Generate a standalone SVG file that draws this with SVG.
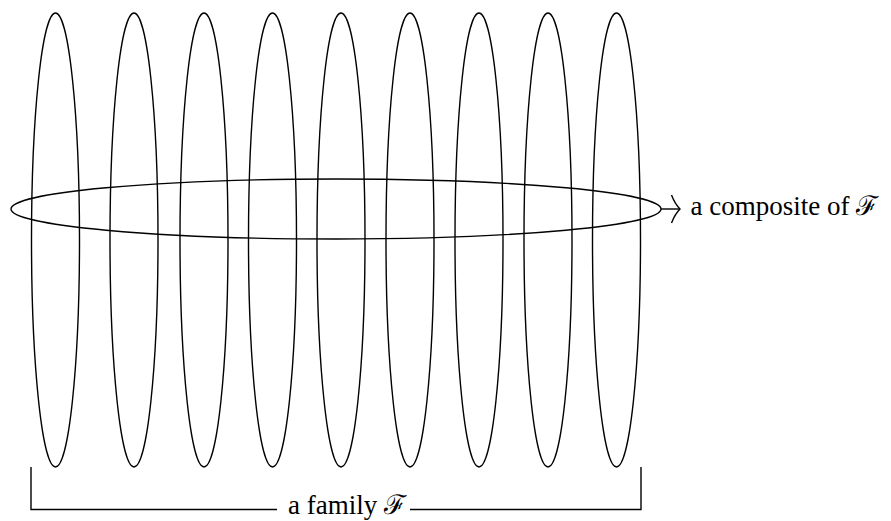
<svg xmlns="http://www.w3.org/2000/svg" width="891" height="521" viewBox="0 0 891 521">
<style>
.s{fill:none;stroke:#000;stroke-width:1.4}
.t{font-size:27px;fill:#000}
</style>
<rect width="891" height="521" fill="#fff"/>
<g id="family">
<g id="m1"><ellipse class="s" cx="55.5" cy="240" rx="24" ry="227"/></g>
<g id="m2"><ellipse class="s" cx="134" cy="240" rx="24" ry="227"/></g>
<g id="m3"><ellipse class="s" cx="204" cy="240" rx="24" ry="227"/></g>
<g id="m4"><ellipse class="s" cx="272.5" cy="240" rx="24" ry="227"/></g>
<g id="m5"><ellipse class="s" cx="341" cy="240" rx="24" ry="227"/></g>
<g id="m6"><ellipse class="s" cx="410" cy="240" rx="24" ry="227"/></g>
<g id="m7"><ellipse class="s" cx="479" cy="240" rx="24" ry="227"/></g>
<g id="m8"><ellipse class="s" cx="548" cy="240" rx="24" ry="227"/></g>
<g id="m9"><ellipse class="s" cx="616.5" cy="240" rx="24" ry="227"/></g>
</g>
<g id="composite"><ellipse class="s" cx="336" cy="209" rx="325" ry="30"/></g>
<g id="label-composite"><text class="t" font-family="'Liberation Serif', serif" x="690.5" y="215">a composite of ℱ</text></g>
<g id="label-family"><text class="t" font-family="'Liberation Serif', serif" x="288" y="514">a family ℱ</text></g>
<g id="connectors">
<path class="s" d="M661,209 H679"/>
<path class="s" d="M671.5,195 Q675,204 680,209 Q675,214 671.5,223"/>
<path class="s" d="M31,467 V509.5 H277"/>
<path class="s" d="M410,509.5 H641 V467"/>
</g>
</svg>
